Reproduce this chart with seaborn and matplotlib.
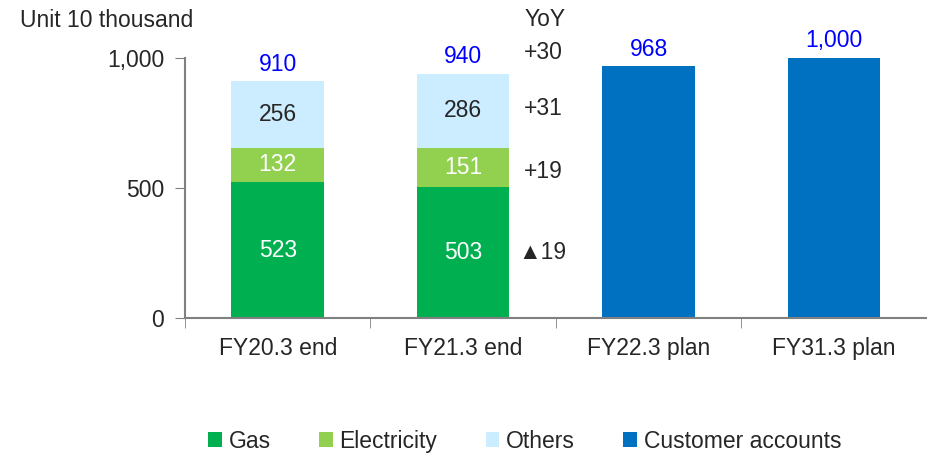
import matplotlib
matplotlib.use("Agg")
import matplotlib.pyplot as plt
import matplotlib.ticker as mticker
from matplotlib.patches import Patch
import seaborn as sns
import pandas as pd
import numpy as np

categories = ['FY20.3 end', 'FY21.3 end', 'FY22.3 plan', 'FY31.3 plan']
gas = [523, 503, 0, 0]
electricity = [132, 151, 0, 0]
others = [256, 286, 0, 0]
customer_accounts = [0, 0, 968, 1000]
totals = [910, 940, 968, 1000]
yoy_labels = ['+30', '+31', '+19', '\u25b219']

colors = {'Gas': '#00B050', 'Electricity': '#92D050', 'Others': '#CCECFF',
          'Customer accounts': '#0070C0'}

sns.set_style('white')
plt.rcParams['font.family'] = ['Liberation Sans Narrow', 'Liberation Sans', 'DejaVu Sans']
text_c = '#262626'

df = pd.DataFrame({'cat': categories, 'gas': gas, 'elec': electricity,
                   'others': others, 'cust': customer_accounts})
df['b_elec'] = df['gas']
df['b_others'] = df['gas'] + df['elec']

fig = plt.figure(figsize=(9.27, 4.55), dpi=100)
ax = fig.add_axes([0.1996, 0.301, 0.80, 0.5715])

w = 0.5
kw = dict(width=w, ax=ax, saturation=1, linewidth=0)
sns.barplot(data=df, x='cat', y='gas', color=colors['Gas'], **kw)
sns.barplot(data=df, x='cat', y='elec', bottom=df['b_elec'], color=colors['Electricity'], **kw)
sns.barplot(data=df, x='cat', y='others', bottom=df['b_others'], color=colors['Others'], **kw)
sns.barplot(data=df, x='cat', y='cust', color=colors['Customer accounts'], **kw)

fs = 16.5
# segment labels
for i in range(len(categories)):
    if gas[i] > 0:
        ax.text(i, gas[i] / 2, f'{gas[i]}', ha='center', va='center', color='white', fontsize=fs)
        ax.text(i, gas[i] + electricity[i] / 2, f'{electricity[i]}', ha='center', va='center',
                color='white', fontsize=fs)
        ax.text(i, gas[i] + electricity[i] + others[i] / 2, f'{others[i]}', ha='center',
                va='center', color=text_c, fontsize=fs)
    ax.annotate(f'{totals[i]:,}', (i, totals[i]), xytext=(0, 4), textcoords='offset points',
                ha='center', va='bottom', color='#0000FF', fontsize=fs)

# YoY column
yx = 1.43
ax.text(yx + 0.01, 1150, 'YoY', ha='center', va='center', color=text_c, fontsize=fs,
        clip_on=False)
yoy_y = [totals[1] + 83, gas[1] + electricity[1] + others[1] / 2 + 10,
         gas[1] + electricity[1] / 2 - 15, gas[1] / 2]
for lab, yy in zip(yoy_labels, yoy_y):
    ax.text(yx, yy, lab, ha='center', va='center', color=text_c, fontsize=fs, clip_on=False)

ax.set_ylim(0, 1000)
ax.set_xlim(-0.5, 3.5)
ax.set_yticks([0, 500, 1000])
ax.yaxis.set_major_formatter(mticker.FuncFormatter(lambda v, p: f'{int(v):,}'))
ax.set_xticks(np.arange(4))
ax.set_xticklabels(categories)
ax.set_xticks(np.arange(-0.5, 4, 1), minor=True)
ax.tick_params(axis='x', which='major', length=0, pad=14, labelsize=fs, labelcolor=text_c)
ax.tick_params(axis='x', which='minor', length=7, direction='out', color='#808080', bottom=True)
ax.tick_params(axis='y', length=7, direction='out', color='#808080', labelsize=fs,
               labelcolor=text_c, pad=8, left=True)
ax.set_xlabel('')
ax.set_ylabel('')
for s in ['top', 'right']:
    ax.spines[s].set_visible(False)
for s in ['left', 'bottom']:
    ax.spines[s].set_color('#808080')
    ax.spines[s].set_linewidth(1.5)

fig.text(0.022, 0.955, 'Unit 10 thousand', ha='left', va='center', color=text_c, fontsize=fs)

handles = [Patch(facecolor=c, edgecolor='none', label=k) for k, c in colors.items()]
fig.legend(handles=handles, loc='center', bbox_to_anchor=(0.566, 0.03), ncol=4,
           frameon=False, fontsize=fs, handlelength=0.6, handleheight=0.6,
           handletextpad=0.3, columnspacing=2.1, labelcolor=text_c)

fig.savefig('out.png', dpi=100)
